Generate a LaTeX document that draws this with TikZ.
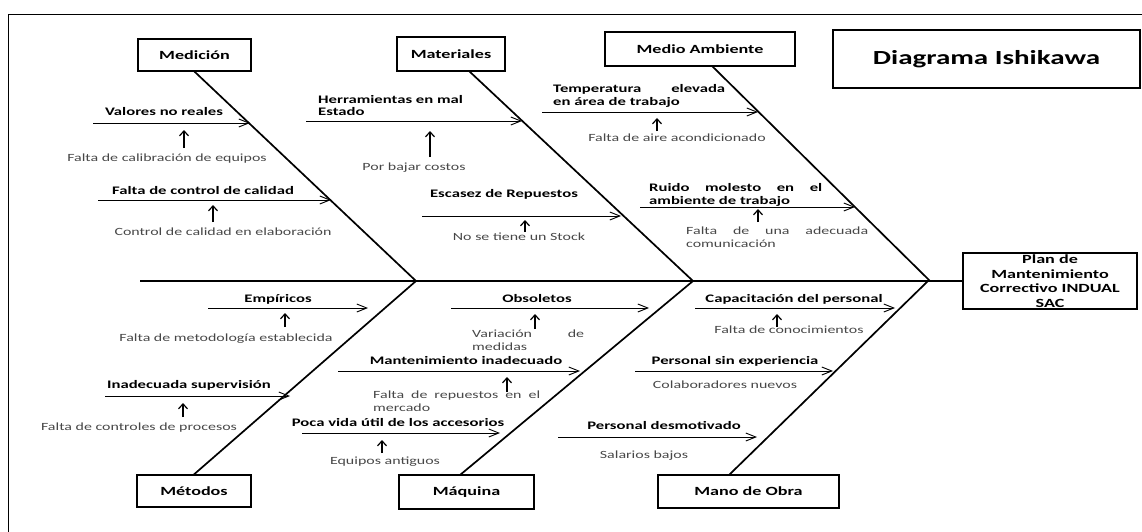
\documentclass[tikz,border=0pt]{standalone}
\usepackage{fontspec}
\setmainfont{Carlito}[FakeStretch=1.45]
\usetikzlibrary{arrows.meta}
\begin{document}
\begin{tikzpicture}[x=1pt,y=-1pt,
  catbox/.style={draw, line width=1.2pt, inner sep=0pt, font=\bfseries\fontsize{12.5}{14.5}\selectfont, align=center},
  lbl/.style={inner sep=0pt, anchor=base, font=\bfseries\fontsize{11.5}{13}\selectfont},
  lblw/.style={inner sep=0pt, anchor=base west, align=left, font=\bfseries\fontsize{11.5}{13}\selectfont},
  cause/.style={inner sep=0pt, anchor=base, text=black!72, font=\fontsize{11}{12}\selectfont},
  causew/.style={inner sep=0pt, anchor=base west, align=left, text=black!72, font=\fontsize{11}{12.2}\selectfont},
  bone/.style={line width=1.7pt},
  sub/.style={line width=0.9pt, -{Straight Barb[length=10pt,width=8pt,line width=0.9pt]}},
  uparr/.style={line width=1.2pt, -{Straight Barb[length=5pt,width=9pt,line width=1.2pt]}}
]
\useasboundingbox (0,0) rectangle (1142,532);
% frame
\draw[line width=1pt] (8,545) -- (8,15) -- (1150,15);

% boxes
\node[catbox, minimum width=113pt, minimum height=32pt] (med) at (194.5,55) {Medición};
\node[catbox, minimum width=108pt, minimum height=34pt] (mat) at (451,54) {Materiales};
\node[catbox, minimum width=190pt, minimum height=34pt] (amb) at (700,49) {Medio Ambiente};
\node[draw, line width=1.2pt, minimum width=307pt, minimum height=58pt, font=\bfseries\fontsize{20}{24}\selectfont] (title) at (986.5,59) {Diagrama Ishikawa};
\node[catbox, minimum width=174pt, minimum height=56pt] (plan) at (1050,281) {Plan de\\Mantenimiento\\Correctivo INDUAL\\SAC};
\node[catbox, minimum width=114pt, minimum height=32pt] (met) at (194,491) {Métodos};
\node[catbox, minimum width=135pt, minimum height=34pt] (maq) at (466.5,492) {Máquina};
\node[catbox, minimum width=181pt, minimum height=33pt] (mano) at (748.5,491.5) {Mano de Obra};

% junctions and bone ends
\coordinate (j1) at (416,281);
\coordinate (j2) at (693,281);
\coordinate (j3) at (929,280);
\coordinate (s0) at (140,281);
\coordinate (b1) at (med.south);
\coordinate (b2) at (469,71);
\coordinate (b3) at (712,66);
\coordinate (b4) at (met.north);
\coordinate (b5) at (460,475);
\coordinate (b6) at (729,475);

\draw[bone] (s0) -- (plan.west |- s0);
\draw[bone] (b1) -- (j1) -- (b4);
\draw[bone] (b2) -- (j2) -- (b5);
\draw[bone] (b3) -- (j3) -- (b6);

% Medicion
\node[lbl] (m1) at (164,116) {Valores no reales};
\draw[sub] (93,123) -- (250,123);
\draw[uparr] (184,148) -- (184,130);
\node[cause] (m1c) at (167,161) {Falta de calibración de equipos};
\node[lbl] (m2) at (203,194) {Falta de control de calidad};
\draw[sub] (98,200) -- (331,200);
\draw[uparr] (213,222) -- (213,205);
\node[cause] (m2c) at (223,235) {Control de calidad en elaboración};

% Materiales
\node[lblw] (a1) at (318,116) {Herramientas en mal\\Estado};
\draw[sub] (306,121) -- (522,121);
\draw[uparr] (430,157) -- (430,131);
\node[cause] (a1c) at (414,170) {Por bajar costos};
\node[lbl] (a2) at (504,197) {Escasez de Repuestos};
\draw[sub] (422,216) -- (621,216);
\draw[uparr] (525,232) -- (525,220);
\node[cause] (a2c) at (519,240) {No se tiene un Stock};

% Medio Ambiente
\node[lblw] (e1) at (553,106) {\makebox[172pt][s]{Temperatura elevada}\\en área de trabajo};
\draw[sub] (542,112) -- (758,112);
\draw[uparr] (657,131) -- (657,118);
\node[cause] (e1c) at (677,141) {Falta de aire acondicionado};
\node[lblw] (e2) at (649,204) {\makebox[173pt][s]{Ruido molesto en el}\\ambiente de trabajo};
\draw[sub] (640,207) -- (855,207);
\draw[uparr] (758,222) -- (758,209);
\node[causew] (e2c) at (686,247) {\makebox[182pt][s]{Falta de una adecuada}\\comunicación};

% Metodos
\node[lbl] (t1) at (278,302) {Empíricos};
\draw[sub] (208,308) -- (368,308);
\draw[uparr] (285,327) -- (285,313);
\node[cause] (t1c) at (226,341) {Falta de metodología establecida};
\node[lbl] (t2) at (189,388) {Inadecuada supervisión};
\draw[sub] (105,396) -- (290,396);
\draw[uparr] (183,417) -- (183,403);
\node[cause] (t2c) at (139,430) {Falta de controles de procesos};

% Maquina
\node[lbl] (q1) at (537,302) {Obsoletos};
\draw[sub] (451,308) -- (649,308);
\draw[uparr] (535,329) -- (535,314);
\node[causew] (q1c) at (472,350) {\makebox[112pt][s]{Variación de}\\medidas};
\node[lbl] (q2) at (466,364) {Mantenimiento inadecuado};
\draw[sub] (338,371) -- (580,371);
\draw[uparr] (507,392) -- (507,377);
\node[causew] (q2c) at (373,411) {\makebox[167pt][s]{Falta de repuestos en el}\\mercado};
\node[lbl] (q3) at (398,426) {Poca vida útil de los accesorios};
\draw[sub] (302,433) -- (500,433);
\draw[uparr] (382,453) -- (382,440);
\node[cause] (q3c) at (385,464) {Equipos antiguos};

% Mano de Obra
\node[lbl] (o1) at (794,302) {Capacitación del personal};
\draw[sub] (695,308) -- (895,308);
\draw[uparr] (777,327) -- (777,314);
\node[cause] (o1c) at (789,333) {Falta de conocimientos};
\node[lbl] (o2) at (735,364) {Personal sin experiencia};
\draw[sub] (635,371) -- (833,371);
\node[cause] (o2c) at (725,388) {Colaboradores nuevos};
\node[lbl] (o3) at (664,429) {Personal desmotivado};
\draw[sub] (558,437) -- (757,437);
\node[cause] (o3c) at (644,458) {Salarios bajos};
\end{tikzpicture}
\end{document}
